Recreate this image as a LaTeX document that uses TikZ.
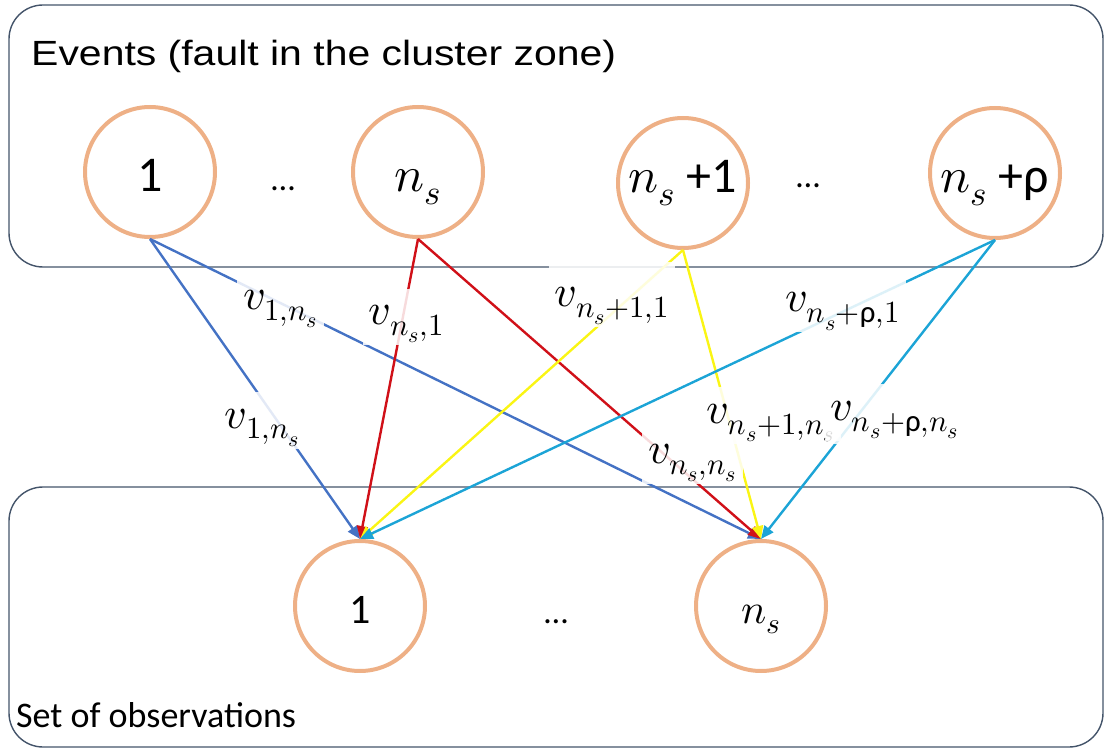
\documentclass[tikz,border=0pt]{standalone}
\usepackage{amsmath}
\usepackage{fontspec}
\usepackage{unicode-math}
\setmainfont{Carlito}
\setmathfont{Latin Modern Math}
\newfontfamily\headfont{Liberation Sans}
\usepackage{graphicx}
\usepackage{xcolor}
\definecolor{fzPeach}{RGB}{238,176,134}
\definecolor{fzSlate}{RGB}{68,84,106}
\definecolor{fzBlue}{RGB}{68,114,196}
\definecolor{fzRed}{RGB}{208,16,24}
\definecolor{fzYellow}{RGB}{250,245,20}
\definecolor{fzCyan}{RGB}{28,164,214}
\usetikzlibrary{arrows.meta}

\begin{document}
\begin{tikzpicture}[x=1pt,y=-1pt,
  zone/.style={draw=fzSlate,line width=1.4pt,rounded corners=34pt,minimum width=1094pt},
  ev/.style={circle,draw=fzPeach,line width=4pt,minimum size=130pt,inner sep=0pt,text height=44pt,text depth=4pt,font=\fontsize{50}{60}\selectfont},
  ob/.style={ev,text height=38pt,text depth=4pt,font=\fontsize{42}{50}\selectfont},
  dots/.style={anchor=base,inner sep=0pt,font=\fontsize{34}{40}\selectfont},
  a/.style={-{Triangle[length=13pt,width=11pt]},line width=2.4pt},
  lbl/.style={anchor=base,fill=white,fill opacity=.85,text opacity=1,inner xsep=6pt,inner ysep=2pt,text height=34pt,font=\fontsize{44}{50}\selectfont}]
  \useasboundingbox (0,0) rectangle (1106,749);
  % the two zones
  \node[zone,minimum height=262pt] (evzone) at (556,136) {};
  \node[zone,minimum height=260pt] (obzone) at (556,617) {};
  \node[anchor=base west,inner sep=0pt,font=\headfont\fontsize{35}{40}\selectfont] (evtitle) at (31,66) {\scalebox{1.17}[1]{Events (fault in the cluster zone)}};
  \node[anchor=base west,inner sep=0pt,font=\fontsize{36}{42}\selectfont] (obtitle) at (16,727) {Set of observations};
  % events
  \node[ev] (e1) at (150,172) {1};
  \node[ev] (es) at (418,172) {$n_s$};
  \node[ev,text depth=24pt] (ep1) at (683,183) {$n_s$ +1};
  \node[ev] (ep) at (995,173) {$n_s$ +ρ};
  \node[dots] (d1) at (283,190) {…};
  \node[dots] (d2) at (808,187) {…};
  % observations
  \node[ob] (o1) at (360,606) {1};
  \node[ob] (os) at (761,606) {$n_s$};
  \node[dots] (d3) at (556,623) {…};
  % links
  \draw[a,fzBlue] (e1.south) -- (o1.north);
  \draw[a,fzBlue] (e1.south) -- (os.north);
  \draw[a,fzRed] (es.south) -- (o1.north);
  \draw[a,fzRed] (es.south) -- (os.north);
  \draw[a,fzYellow] (ep1.south) -- (o1.north);
  \draw[a,fzYellow] (ep1.south) -- (os.north);
  \draw[a,fzCyan] (ep.south) -- (o1.north);
  \draw[a,fzCyan] (ep.south) -- (os.north);
  % weights
  \path (e1.south) -- node[lbl,pos=.235,xshift=-13pt] (w1) {$v_{1,n_s}$} (os.north);
  \path (e1.south) -- node[lbl,pos=.63,xshift=-20pt] (w2) {$v_{1,n_s}$} (o1.north);
  \path (es.south) -- node[lbl,pos=.285,xshift=5pt] (w3) {$v_{n_s,1}$} (o1.north);
  \path (ep1.south) -- node[lbl,pos=.195,xshift=-8pt,text height=42pt] (w4) {$v_{n_s+1,1}$} (o1.north);
  \path (ep.south) -- node[lbl,pos=.24] (w5) {$v_{n_s+\text{ρ},1}$} (o1.north);
  \path (es.south) -- node[lbl,pos=.748,xshift=18pt] (w6) {$v_{n_s,n_s}$} (os.north);
  \path (ep1.south) -- node[lbl,pos=.6,xshift=41pt] (w7) {$v_{n_s+1,n_s}$} (os.north);
  \path (ep.south) -- node[lbl,pos=.603,xshift=41pt] (w8) {$v_{n_s+\text{ρ},n_s}$} (os.north);
\end{tikzpicture}
\end{document}
